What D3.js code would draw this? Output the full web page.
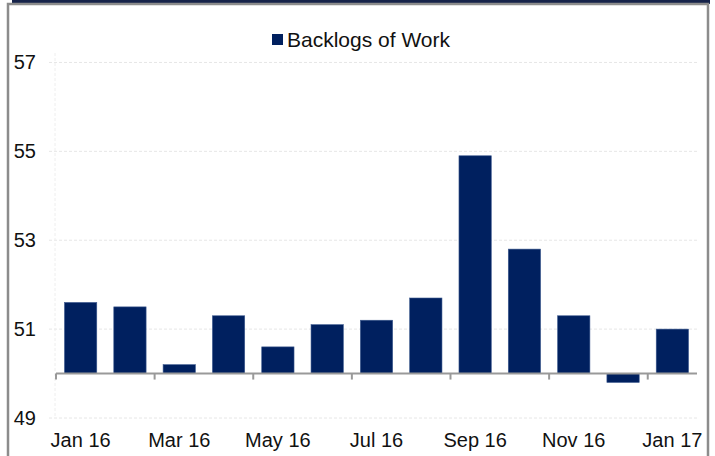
<!DOCTYPE html>
<html>
<head>
<meta charset="utf-8">
<script src="https://cdn.jsdelivr.net/npm/d3@7"></script>
<style>
  body { margin: 0; background: #fff; }
  svg { display: block; font-family: "Liberation Sans", Arial, sans-serif; }
</style>
</head>
<body>
<div id="chart"></div>
<script>
// data
var months = ["Jan 16", "Feb 16", "Mar 16", "Apr 16", "May 16", "Jun 16", "Jul 16",
              "Aug 16", "Sep 16", "Oct 16", "Nov 16", "Dec 16", "Jan 17"];
var backlogs = [51.6, 51.5, 50.2, 51.3, 50.6, 51.1, 51.2, 51.7, 54.9, 52.8, 51.3, 49.8, 51.0];
var yTicks = [49, 51, 53, 55, 57];
var seriesName = "Backlogs of Work";

var W = 715, H = 456;
var margin = {top: 18, right: 18, bottom: 38, left: 56},
    width = W - margin.left - margin.right,
    height = H - margin.top - margin.bottom;

var svg = d3.select("#chart")
  .append("svg")
  .attr("width", W)
  .attr("height", H);

// frame: dark band on top, grey border
svg.append("rect")
  .attr("x", 12).attr("y", 0)
  .attr("width", W - 12 - 5).attr("height", 4)
  .attr("fill", "#16234a");
svg.append("path")
  .attr("d", "M8,460 V4 H708 V460")
  .attr("fill", "none")
  .attr("stroke", "#8c8c8c")
  .attr("stroke-width", 2.5);

var g = svg.append("g")
  .attr("transform", `translate(${margin.left},${margin.top})`);

var x = d3.scaleBand()
  .domain(months)
  .range([0, 641])
  .paddingInner(0.345)
  .paddingOuter(0.172);

var y = d3.scaleLinear()
  .domain([49, 58])
  .range([400, 0]);

// gridlines
g.selectAll(".grid")
  .data(yTicks)
  .enter().append("line")
  .attr("x1", -7).attr("x2", 641)
  .attr("y1", function(d) { return y(d); })
  .attr("y2", function(d) { return y(d); })
  .attr("stroke", "#e6e6e6")
  .attr("stroke-width", 1)
  .attr("stroke-dasharray", "3,2");

// value axis line (light)
g.append("line")
  .attr("x1", -1).attr("x2", -1)
  .attr("y1", y(58) + 35).attr("y2", y(49))
  .attr("stroke", "#eeeeee")
  .attr("stroke-dasharray", "3,2");

// y labels
g.selectAll(".ylab")
  .data(yTicks)
  .enter().append("text")
  .attr("x", -20)
  .attr("y", function(d) { return y(d); })
  .attr("dy", "0.35em")
  .attr("text-anchor", "end")
  .style("font-size", "20px")
  .attr("fill", "#111")
  .text(function(d) { return d; });

// bars from the 50 baseline
g.selectAll(".bar")
  .data(backlogs)
  .enter().append("rect")
  .attr("x", function(d, i) { return x(months[i]); })
  .attr("width", x.bandwidth())
  .attr("y", function(d) { return y(Math.max(d, 50)); })
  .attr("height", function(d) { return Math.abs(y(d) - y(50)); })
  .attr("fill", "#00205f")
  .attr("stroke", "#3d5a8f")
  .attr("stroke-width", 0.6);

// category axis at 50
g.append("line")
  .attr("x1", 0).attr("x2", 641)
  .attr("y1", y(50)).attr("y2", y(50))
  .attr("stroke", "#999")
  .attr("stroke-width", 2);

var step = x.step();
g.selectAll(".tick")
  .data(months.filter(function(d, i) { return i % 2 === 0; }))
  .enter().append("line")
  .attr("x1", function(d) { return x(d) - x.paddingOuter() * step; })
  .attr("x2", function(d) { return x(d) - x.paddingOuter() * step; })
  .attr("y1", y(50)).attr("y2", y(50) + 6)
  .attr("stroke", "#999")
  .attr("stroke-width", 2);

// x labels every other month
g.selectAll(".xlab")
  .data(months.filter(function(d, i) { return i % 2 === 0; }))
  .enter().append("text")
  .attr("x", function(d) { return x(d) + x.bandwidth() / 2; })
  .attr("y", 429)
  .attr("text-anchor", "middle")
  .style("font-size", "20px")
  .attr("fill", "#111")
  .text(function(d) { return d; });

// legend
var legend = svg.append("g").attr("transform", "translate(272,34)");
legend.append("rect")
  .attr("width", 11).attr("height", 11)
  .attr("fill", "#00205f");
legend.append("text")
  .attr("x", 15).attr("y", 5.5)
  .attr("dy", "0.35em")
  .style("font-size", "21px")
  .attr("fill", "#111")
  .text(seriesName);
</script>
</body>
</html>
